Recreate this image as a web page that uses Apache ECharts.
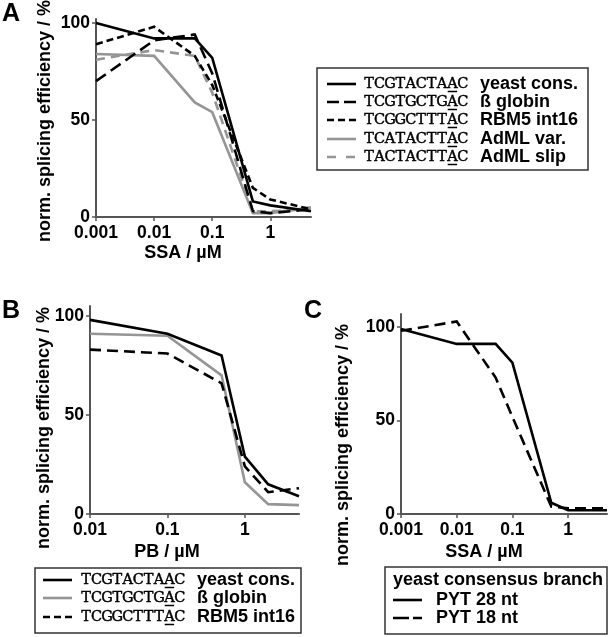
<!DOCTYPE html>
<html>
<head>
<meta charset="utf-8">
<script src="https://cdn.jsdelivr.net/npm/echarts@6/dist/echarts.min.js"></script>
<style>html,body{margin:0;padding:0;background:#fff}#c{width:610px;height:637px}</style>
</head>
<body>
<div id="c"></div>
<script>
// ---- Data ----
// Panel A (SSA)
const xA = [0.001, 0.01, 0.05, 0.1, 0.5, 1, 5];
const yeastA = [100, 92, 92, 82, 8, 6, 3];
const globinA = [70, 91, 94, 74, 3, 2, 4];
const rbm5A = [89, 98, 83, 68, 15, 9, 4];
const admlVarA = [84, 83, 59, 54, 2, 2, 5];
const admlSlipA = [81, 86, 83, 64, 3, 3, 4];
// Panel B (PB)
const xB = [0.01, 0.1, 0.5, 1, 2, 5];
const yeastB = [98, 91, 80, 29, 15, 9];
const globinB = [91, 90, 70, 16, 5, 4.5];
const rbm5B = [83, 81, 66, 24, 11, 13];
// Panel C (SSA)
const xC = [0.001, 0.01, 0.05, 0.1, 0.5, 1, 2, 5];
const pyt28C = [99, 91, 91, 81, 6, 2, 2, 2];
const pyt18C = [98, 103, 73, 52, 4, 3, 3, 3];
// Tick values
const yTicks = [0, 50, 100];
// Legend texts
const legendA = [
  ['TCGTACTAAC', 'yeast cons.'],
  ['TCGTGCTGAC', 'ß globin'],
  ['TCGGCTTTAC', 'RBM5 int16'],
  ['TCATACTTAC', 'AdML var.'],
  ['TACTACTTAC', 'AdML slip']
];
const legendB = [
  ['TCGTACTAAC', 'yeast cons.'],
  ['TCGTGCTGAC', 'ß globin'],
  ['TCGGCTTTAC', 'RBM5 int16']
];
const legendCTitle = 'yeast consensus branch';
const legendC = ['PYT 28 nt', 'PYT 18 nt'];

// ---- Styles ----
const BLACK = '#000';
const GRAY = '#959595';
const AX = '#555';
const FONT = '"Liberation Sans", Arial, sans-serif';

function pairs(xs, ys) { return xs.map((x, i) => [x, ys[i]]); }

function xAxisCfg(idx, min) {
  return {
    type: 'log', logBase: 10, gridIndex: idx, min: min, max: 5,
    axisLine: { lineStyle: { color: AX, width: 2 } },
    axisTick: { show: true, length: 4, inside: false, lineStyle: { color: AX, width: 1.5 } },
    axisLabel: {
      color: '#000', fontSize: 17.5, fontWeight: 'bold', fontFamily: FONT, margin: 7,
      showMaxLabel: false,
      formatter: function (v) {
        const l = Math.log10(v);
        if (Math.abs(l - Math.round(l)) < 1e-6) return String(Number(v.toPrecision(1)));
        return '';
      }
    },
    splitLine: { show: false }, minorTick: { show: false }
  };
}
function yAxisCfg(idx, max) {
  return {
    type: 'value', gridIndex: idx, min: 0, max: max, interval: 50,
    axisLine: { show: true, lineStyle: { color: AX, width: 2 } },
    axisTick: { show: true, length: 4, lineStyle: { color: AX, width: 1.5 } },
    axisLabel: {
      color: '#000', fontSize: 17.5, fontWeight: 'bold', fontFamily: FONT, margin: 6,
      showMaxLabel: false,
      formatter: function (v) { return yTicks.indexOf(v) >= 0 ? String(v) : ''; }
    },
    splitLine: { show: false }
  };
}
function line(name, xs, ys, xi, color, dash, z) {
  return {
    name: name, type: 'line', xAxisIndex: xi, yAxisIndex: xi,
    data: pairs(xs, ys), symbol: 'none', z: z || 2,
    lineStyle: { color: color, width: 2.6, type: dash || 'solid', join: 'miter' },
    animation: false
  };
}

// ---- Graphic (panel labels, axis names, legends) ----
const g = [];
function txt(x, y, s, opts) {
  opts = opts || {};
  const st = {
    text: s, fill: '#000', font: (opts.weight || 'bold') + ' ' + (opts.size || 18) + 'px ' + (opts.family || FONT),
    align: opts.align || 'left', verticalAlign: opts.va || 'middle'
  };
  if (opts.stroke) { st.stroke = '#000'; st.lineWidth = opts.stroke; }
  g.push({ type: 'text', x: x, y: y, rotation: opts.rot || 0, z: 100, style: st });
}
function seg(x1, x2, y, color, dash) {
  g.push({
    type: 'line', z: 100, shape: { x1: x1, y1: y, x2: x2, y2: y },
    style: { stroke: color, lineWidth: 2.6, lineDash: dash || null }
  });
}
function box(x, y, w, h) {
  g.push({ type: 'rect', z: 99, shape: { x: x, y: y, width: w, height: h },
    style: { fill: '#fff', stroke: '#333', lineWidth: 1.5 } });
}
// monospaced serif sequence with underlined 9th base
function seq(x, y, s) {
  const cw = 10.4;
  for (let i = 0; i < s.length; i++) {
    txt(x + cw * i + cw / 2, y + 0.5, s[i], { weight: 'normal', size: 14.5, family: '"DejaVu Serif", "Liberation Serif", serif', align: 'center', stroke: 0.45 });
  }
  g.push({ type: 'line', z: 100, shape: { x1: x + cw * 8 + 0.5, y1: y + 7.5, x2: x + cw * 9 - 0.5, y2: y + 7.5 },
    style: { stroke: '#000', lineWidth: 1.5 } });
}

// panel letters
txt(2, 14, 'A', { size: 25 });
txt(2, 311, 'B', { size: 25 });
txt(304, 311, 'C', { size: 25 });
// axis names
txt(183, 253, 'SSA / µM', { align: 'center' });
txt(167, 552, 'PB / µM', { align: 'center' });
txt(484, 552, 'SSA / µM', { align: 'center' });
txt(45, 121, 'norm. splicing efficiency / %', { align: 'center', rot: Math.PI / 2 });
txt(44, 428, 'norm. splicing efficiency / %', { align: 'center', rot: Math.PI / 2 });
txt(343, 445, 'norm. splicing efficiency / %', { align: 'center', rot: Math.PI / 2 });

// Legend A
box(317, 68, 271, 102);
const rowsA = [84, 102, 120, 139, 157];
const styA = [[BLACK, null], [BLACK, [12, 5]], [BLACK, [7, 4]], [GRAY, null], [GRAY, [9, 10]]];
legendA.forEach((r, i) => {
  seg(327, 356, rowsA[i], styA[i][0], styA[i][1]);
  seq(364, rowsA[i], r[0]);
  txt(480, rowsA[i], r[1]);
});
// Legend B
box(35, 568, 266, 65);
const rowsB = [580, 598, 617];
const styB = [[BLACK, null], [GRAY, null], [BLACK, [7, 4]]];
legendB.forEach((r, i) => {
  seg(43, 72, rowsB[i], styB[i][0], styB[i][1]);
  seq(81, rowsB[i], r[0]);
  txt(197, rowsB[i], r[1]);
});
// Legend C
box(385, 567, 222, 67);
txt(393, 580, legendCTitle);
const rowsC = [600, 618];
const styC = [null, [16, 4]];
legendC.forEach((r, i) => {
  seg(393, 422, rowsC[i], BLACK, styC[i]);
  txt(436, rowsC[i], r);
});

const option = {
  animation: false,
  backgroundColor: '#fff',
  grid: [
    { left: 96, top: 19, width: 215, height: 198, containLabel: false },
    { left: 90, top: 306, width: 209, height: 208, containLabel: false },
    { left: 401, top: 314, width: 206, height: 200, containLabel: false }
  ],
  xAxis: [xAxisCfg(0, 0.001), xAxisCfg(1, 0.01), xAxisCfg(2, 0.001)],
  yAxis: [yAxisCfg(0, 102), yAxisCfg(1, 105), yAxisCfg(2, 107)],
  series: [
    line('AdML var.', xA, admlVarA, 0, GRAY, 'solid', 2),
    line('AdML slip', xA, admlSlipA, 0, GRAY, [9, 6], 2),
    line('RBM5 int16', xA, rbm5A, 0, BLACK, [7, 4], 3),
    line('ß globin', xA, globinA, 0, BLACK, [12, 6], 3),
    line('yeast cons.', xA, yeastA, 0, BLACK, 'solid', 4),
    line('ß globin', xB, globinB, 1, GRAY, 'solid', 2),
    line('RBM5 int16', xB, rbm5B, 1, BLACK, [11, 6], 3),
    line('yeast cons.', xB, yeastB, 1, BLACK, 'solid', 4),
    line('PYT 18 nt', xC, pyt18C, 2, BLACK, [11, 6], 3),
    line('PYT 28 nt', xC, pyt28C, 2, BLACK, 'solid', 4)
  ],
  graphic: g
};
const chart = echarts.init(document.getElementById('c'), null, { renderer: 'canvas' });
chart.setOption(option);
</script>
</body>
</html>
